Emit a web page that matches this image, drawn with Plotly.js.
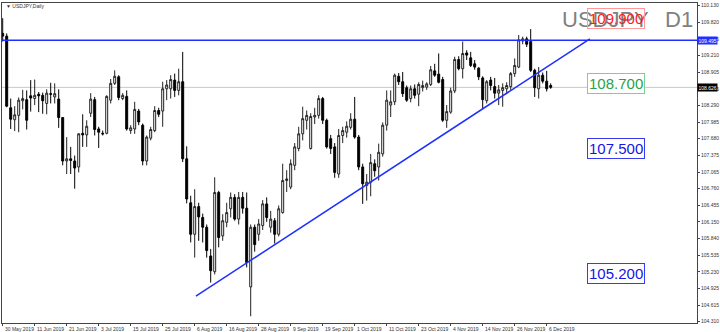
<!DOCTYPE html>
<html><head><meta charset="utf-8">
<script src="https://cdn.plot.ly/plotly-3.0.1.min.js"></script>
<style>html,body{margin:0;padding:0;background:#fff;}#chart{width:720px;height:332px;}</style>
</head><body><div id="chart"></div>
<script>
// ---------------- DATA ----------------
const dates = [
'2019-05-30','2019-05-31',
'2019-06-03','2019-06-04','2019-06-05','2019-06-06','2019-06-07','2019-06-10','2019-06-11','2019-06-12','2019-06-13','2019-06-14',
'2019-06-17','2019-06-18','2019-06-19','2019-06-20','2019-06-21','2019-06-24','2019-06-25','2019-06-26','2019-06-27','2019-06-28',
'2019-07-01','2019-07-02','2019-07-03','2019-07-04','2019-07-05','2019-07-08','2019-07-09','2019-07-10','2019-07-11','2019-07-12',
'2019-07-15','2019-07-16','2019-07-17','2019-07-18','2019-07-19','2019-07-22','2019-07-23','2019-07-24','2019-07-25','2019-07-26',
'2019-07-29','2019-07-30','2019-07-31',
'2019-08-01','2019-08-02','2019-08-05','2019-08-06','2019-08-07','2019-08-08','2019-08-09','2019-08-12','2019-08-13','2019-08-14',
'2019-08-15','2019-08-16','2019-08-19','2019-08-20','2019-08-21','2019-08-22','2019-08-23','2019-08-26','2019-08-27','2019-08-28',
'2019-08-29','2019-08-30',
'2019-09-02','2019-09-03','2019-09-04','2019-09-05','2019-09-06','2019-09-09','2019-09-10','2019-09-11','2019-09-12','2019-09-13',
'2019-09-16','2019-09-17','2019-09-18','2019-09-19','2019-09-20','2019-09-23','2019-09-24','2019-09-25','2019-09-26','2019-09-27',
'2019-09-30',
'2019-10-01','2019-10-02','2019-10-03','2019-10-04','2019-10-07','2019-10-08','2019-10-09','2019-10-10','2019-10-11','2019-10-14',
'2019-10-15','2019-10-16','2019-10-17','2019-10-18','2019-10-21','2019-10-22','2019-10-23','2019-10-24','2019-10-25','2019-10-28',
'2019-10-29','2019-10-30','2019-10-31',
'2019-11-01','2019-11-04','2019-11-05','2019-11-06','2019-11-07','2019-11-08','2019-11-11','2019-11-12','2019-11-13','2019-11-14',
'2019-11-15','2019-11-18','2019-11-19','2019-11-20','2019-11-21','2019-11-22','2019-11-25','2019-11-26','2019-11-27','2019-11-28',
'2019-11-29',
'2019-12-02','2019-12-03','2019-12-04','2019-12-05','2019-12-06','2019-12-09'];

const opens = [
109.62,109.57,
108.25,108.03,108.11,108.38,108.40,108.47,108.42,108.50,108.48,108.33,
108.51,108.45,108.41,108.07,107.27,107.31,107.27,107.16,107.78,107.75,
108.15,108.40,107.86,107.78,107.78,108.39,108.70,108.82,108.42,108.46,
107.83,107.86,108.19,107.93,107.27,107.69,107.83,108.20,108.19,108.60,
108.60,108.76,108.57,
108.73,107.31,106.50,105.92,106.43,106.23,106.05,105.52,105.23,106.69,
105.89,106.14,106.39,106.60,106.20,106.60,106.40,104.95,106.05,105.92,
106.08,106.48,
106.05,106.17,105.92,106.32,106.91,106.79,107.19,107.50,107.77,108.02,
107.50,108.08,108.11,108.42,108.02,107.68,107.53,107.03,107.74,107.80,
107.89,
108.04,107.71,107.16,106.82,106.88,107.22,107.16,107.40,107.93,108.30,
108.36,108.83,108.73,108.62,108.42,108.60,108.50,108.62,108.63,108.68,
108.93,108.87,108.77,
108.02,108.17,108.56,109.14,108.97,109.26,109.17,109.06,108.98,108.80,
108.38,108.76,108.64,108.52,108.57,108.60,108.64,108.88,109.00,109.48,
109.52,
109.47,108.94,108.60,108.85,108.74,108.66];

const highs = [
109.90,109.62,
108.42,108.28,108.44,108.58,108.57,108.76,108.77,108.54,108.53,108.59,
108.71,108.70,108.59,108.08,107.71,107.53,107.37,107.78,108.13,108.02,
108.52,108.45,107.90,107.83,108.48,108.78,108.94,108.85,108.52,108.57,
107.93,108.36,108.23,107.96,107.74,107.90,108.28,108.25,108.73,108.76,
108.85,108.88,108.97,
109.28,107.54,106.63,106.75,106.50,106.30,106.10,105.65,106.97,106.72,
106.29,106.50,106.69,106.66,106.70,106.70,106.69,106.10,106.10,106.20,
106.55,106.60,
106.35,106.22,106.45,107.22,107.10,107.30,107.60,107.90,108.27,108.20,
108.15,108.25,108.48,108.45,108.05,107.75,107.60,107.86,107.90,108.00,
108.15,
108.45,107.75,107.22,107.03,107.40,107.30,107.59,107.98,108.57,108.57,
108.88,108.89,108.91,108.66,108.66,108.68,108.72,108.75,108.72,109.02,
109.06,109.25,108.82,
108.30,108.62,109.19,109.20,109.47,109.31,109.28,109.13,109.00,108.83,
108.76,108.82,108.80,108.67,108.70,108.72,108.91,109.16,109.59,109.56,
109.56,
109.70,108.97,109.00,108.90,108.93,108.70];

const lows = [
109.47,108.26,
107.86,107.82,107.80,108.22,107.85,108.18,108.30,108.17,108.14,108.13,
108.33,108.33,107.88,107.19,107.03,107.03,106.76,107.06,107.53,107.53,
108.08,107.74,107.51,107.74,107.76,108.33,108.67,108.39,108.39,107.83,
107.77,107.77,107.93,107.19,107.19,107.65,107.80,108.08,107.90,108.39,
108.42,108.45,108.48,
107.25,106.49,105.77,105.49,105.80,105.77,105.49,105.03,105.18,105.68,
105.80,106.05,106.23,106.17,106.10,106.30,105.31,104.41,105.60,105.80,
106.00,106.15,
105.95,105.75,105.88,106.30,106.70,106.75,107.10,107.45,107.65,107.85,
107.48,107.95,108.05,107.95,107.50,107.40,106.96,106.96,107.60,107.70,
107.85,
107.68,107.10,106.48,106.54,106.62,106.98,106.91,107.35,107.83,108.08,
108.30,108.67,108.45,108.36,108.35,108.42,108.28,108.55,108.58,108.65,
108.82,108.70,107.99,
107.88,108.14,108.52,108.94,108.79,109.13,109.00,108.95,108.76,108.23,
108.33,108.57,108.42,108.30,108.27,108.50,108.58,108.82,108.98,109.42,
109.37,
108.91,108.45,108.42,108.70,108.55,108.60];

const closes = [
109.57,108.28,
108.04,108.12,108.39,108.42,108.02,108.43,108.48,108.47,108.38,108.52,
108.50,108.51,108.07,107.27,107.31,107.28,107.14,107.77,107.75,107.91,
108.41,107.85,107.80,107.77,108.46,108.70,108.83,108.44,108.48,107.86,
107.88,108.22,107.99,107.27,107.71,107.85,108.20,108.13,108.60,108.67,
108.77,108.57,108.73,
107.31,106.57,105.92,106.43,106.24,106.05,105.62,105.25,106.69,105.86,
106.17,106.32,106.60,106.20,106.60,106.40,105.40,106.05,105.73,106.11,
106.48,106.23,
106.20,105.92,106.39,106.91,106.94,107.22,107.53,107.77,108.05,108.11,
108.09,108.11,108.42,108.02,107.53,107.50,107.06,107.74,107.83,107.91,
108.04,
107.71,107.16,106.85,106.88,107.24,107.09,107.43,107.93,108.39,108.36,
108.85,108.73,108.51,108.39,108.60,108.48,108.68,108.66,108.69,108.95,
108.85,108.72,108.02,
108.18,108.56,109.14,108.97,109.25,109.22,109.03,109.00,108.82,108.40,
108.73,108.66,108.52,108.58,108.62,108.66,108.88,109.03,109.50,109.52,
109.42,
108.94,108.62,108.85,108.74,108.60,108.626];

const priceTicks = [110.130,109.820,109.515,109.210,108.905,108.595,108.290,107.985,107.680,107.375,
  107.065,106.760,106.455,106.150,105.840,105.535,105.230,104.925,104.615,104.310];

const dateLabelDates = ['2019-05-30','2019-06-11','2019-06-21','2019-07-03','2019-07-15','2019-07-25','2019-08-06',
  '2019-08-16','2019-08-28','2019-09-09','2019-09-19','2019-10-01','2019-10-11','2019-10-23','2019-11-04',
  '2019-11-14','2019-11-26','2019-12-06'];
const dateLabelText = ['30 May 2019','11 Jun 2019','21 Jun 2019','3 Jul 2019','15 Jul 2019','25 Jul 2019','6 Aug 2019',
  '16 Aug 2019','28 Aug 2019','9 Sep 2019','19 Sep 2019','1 Oct 2019','11 Oct 2019','23 Oct 2019','4 Nov 2019',
  '14 Nov 2019','26 Nov 2019','6 Dec 2019'];

const resistanceLevel = 109.495;
const currentPrice = 108.626;
const trendIdx = [48.3, 146.8];
const trendPrice = [104.78, 109.52];

const levelPrices = [109.900, 108.700, 107.500, 105.200];
const levelText = ['109.900', '108.700', '107.500', '105.200'];

const symbolText = 'USDJPY';
const periodText = 'D1';
const windowTitle = 'USDJPY,Daily';

// ---------------- STYLE ----------------
const W = 720, H = 332;
const M = {l: 2, r: 23, t: 3, b: 9};
const plotW = W - M.l - M.r;
const barPx = 4.0, firstBarPx = 2.7;
const xr0 = -(firstBarPx - M.l) / barPx;
const xr1 = xr0 + plotW / barPx;
const yTop = 110.18, yBot = 104.286;
const blue = '#1f2fff';
const levelStyle = [
  {color: '#ff1a1a', border: '#ff9a9a', bg: 'rgba(255,255,255,0)'},
  {color: '#2aa04a', border: '#7fcf92', bg: '#ffffff'},
  {color: '#1515e6', border: '#3a3af0', bg: '#ffffff'},
  {color: '#1515e6', border: '#3a3af0', bg: '#ffffff'}
];
const small = {family: 'Liberation Sans, Arial, sans-serif', size: 5, color: '#333'};
const px2paperX = p => (p - M.l) / plotW;
const px2paperY = p => 1 - (p - M.t) / (H - M.t - M.b);

const trace = {
  type: 'candlestick',
  x: dates, open: opens, high: highs, low: lows, close: closes,
  increasing: {line: {color: '#222', width: 1}, fillcolor: '#ffffff'},
  decreasing: {line: {color: '#000', width: 1}, fillcolor: '#000000'},
  whiskerwidth: 0,
  hoverinfo: 'skip',
  showlegend: false
};

const annotations = [];
// window title
annotations.push({xref: 'paper', yref: 'paper', x: px2paperX(3.5), y: px2paperY(6), xanchor: 'left', yanchor: 'middle',
  text: '\u25BC ' + windowTitle, showarrow: false, font: small});
// big symbol text
annotations.push({xref: 'paper', yref: 'paper', x: px2paperX(559.5), y: px2paperY(19.5), xanchor: 'left', yanchor: 'middle',
  text: symbolText, showarrow: false, font: {family: 'Liberation Sans, Arial, sans-serif', size: 22, color: '#808080'}});
annotations.push({xref: 'paper', yref: 'paper', x: px2paperX(662.5), y: px2paperY(19.5), xanchor: 'left', yanchor: 'middle',
  text: periodText, showarrow: false, font: {family: 'Liberation Sans, Arial, sans-serif', size: 22, color: '#808080'}});
// level boxes
levelPrices.forEach((p, k) => {
  annotations.push({xref: 'paper', yref: 'y', x: px2paperX(587), y: p, xanchor: 'left', yanchor: 'middle',
    text: levelText[k], showarrow: false,
    font: {family: 'Liberation Sans, Arial, sans-serif', size: 15, color: levelStyle[k].color},
    bordercolor: levelStyle[k].border, borderwidth: 1, borderpad: 1, bgcolor: levelStyle[k].bg});
});
// date labels
dateLabelDates.forEach((d, k) => {
  annotations.push({xref: 'x', yref: 'paper', x: d, y: 0, xanchor: 'left', yanchor: 'top', xshift: 0, yshift: -1,
    text: dateLabelText[k], showarrow: false, font: small});
});
// price highlight labels on the axis
annotations.push({xref: 'paper', yref: 'y', x: 1, y: resistanceLevel, xanchor: 'left', yanchor: 'middle',
  text: resistanceLevel.toFixed(3), showarrow: false, bgcolor: blue, borderpad: 0.5,
  font: {family: 'Liberation Sans, Arial, sans-serif', size: 5, color: '#fff'}});
annotations.push({xref: 'paper', yref: 'y', x: 1, y: currentPrice, xanchor: 'left', yanchor: 'middle',
  text: currentPrice.toFixed(3), showarrow: false, bgcolor: '#000', borderpad: 0.5,
  font: {family: 'Liberation Sans, Arial, sans-serif', size: 5, color: '#fff'}});

const shapes = [
  {type: 'line', xref: 'paper', yref: 'y', x0: 0, x1: 1, y0: currentPrice, y1: currentPrice,
   line: {color: '#c8c8c8', width: 1}, layer: 'below'},
  {type: 'line', xref: 'paper', yref: 'y', x0: 0, x1: 1, y0: resistanceLevel, y1: resistanceLevel,
   line: {color: blue, width: 1.5}},
  {type: 'line', xref: 'x', yref: 'y', x0: trendIdx[0], x1: trendIdx[1], y0: trendPrice[0], y1: trendPrice[1],
   line: {color: blue, width: 1.5}}
];

const layout = {
  width: W, height: H,
  margin: M,
  paper_bgcolor: '#ffffff', plot_bgcolor: '#ffffff',
  showlegend: false,
  xaxis: {type: 'category', range: [xr0, xr1], rangeslider: {visible: false}, showgrid: false, zeroline: false,
    showline: true, linecolor: '#444', linewidth: 1, mirror: true,
    tickmode: 'array', tickvals: dateLabelDates, showticklabels: false, ticks: 'outside', ticklen: 2, tickcolor: '#444'},
  yaxis: {side: 'right', range: [yBot, yTop], showgrid: false, zeroline: false,
    showline: true, linecolor: '#444', linewidth: 1, mirror: true,
    tickmode: 'array', tickvals: priceTicks, ticktext: priceTicks.map(v => v.toFixed(3)),
    ticks: 'outside', ticklen: 2, tickcolor: '#444', tickfont: small},
  annotations: annotations,
  shapes: shapes
};

Plotly.newPlot('chart', [trace], layout, {staticPlot: true, displayModeBar: false});
</script>
</body></html>
